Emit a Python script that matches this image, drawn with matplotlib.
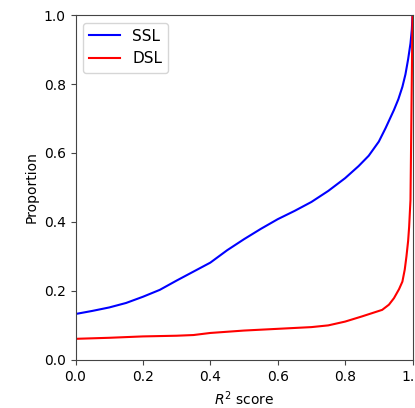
import matplotlib
matplotlib.use('Agg')
import matplotlib.pyplot as plt

# cumulative proportion of samples vs R^2 score
ssl_x = [0.0, 0.05, 0.1, 0.15, 0.2, 0.25, 0.3, 0.35, 0.4, 0.45, 0.5, 0.55, 0.6,
         0.65, 0.7, 0.75, 0.8, 0.84, 0.87, 0.9, 0.92, 0.945, 0.958, 0.97,
         0.979, 0.987, 0.994, 0.998, 1.0]
ssl_y = [0.133, 0.142, 0.152, 0.165, 0.183, 0.203, 0.230, 0.256, 0.282, 0.318,
         0.350, 0.380, 0.408, 0.432, 0.458, 0.490, 0.527, 0.562, 0.592, 0.633,
         0.672, 0.725, 0.756, 0.792, 0.828, 0.872, 0.918, 0.958, 1.0]

dsl_x = [0.0, 0.1, 0.2, 0.3, 0.35, 0.4, 0.5, 0.6, 0.7, 0.75, 0.8, 0.85, 0.91,
         0.93, 0.945, 0.96, 0.97, 0.977, 0.982, 0.987, 0.99, 0.994, 1.0]
dsl_y = [0.061, 0.064, 0.068, 0.070, 0.072, 0.078, 0.085, 0.090, 0.095, 0.100,
         0.111, 0.126, 0.145, 0.160, 0.179, 0.205, 0.227, 0.262, 0.300, 0.345,
         0.386, 0.464, 1.0]

ticks = [0.0, 0.2, 0.4, 0.6, 0.8, 1.0]

fig = plt.figure(figsize=(4.15, 4.08), dpi=100)
ax = fig.add_axes([0.182, 0.118, 0.812, 0.845])

ax.plot(ssl_x, ssl_y, color='b', linewidth=1.5, label='SSL')
ax.plot(dsl_x, dsl_y, color='r', linewidth=1.5, label='DSL')

ax.set_xlim(0, 1)
ax.set_ylim(0, 1)
ax.set_xticks(ticks)
ax.set_yticks(ticks)
ax.set_xlabel('$R^2$ score')
ax.set_ylabel('Proportion')
for s in ax.spines.values():
    s.set_color('#444444')
ax.tick_params(colors='#444444', labelcolor='black')
ax.legend(loc='upper left', fontsize=11)

fig.savefig('out.png', dpi=100)
